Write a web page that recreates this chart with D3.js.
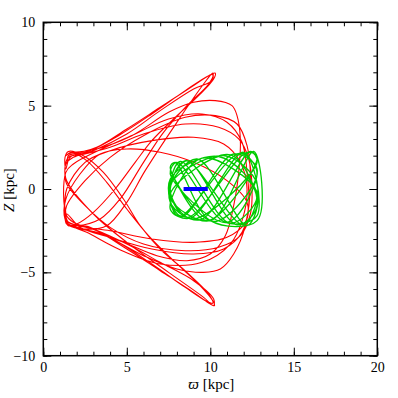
<!DOCTYPE html>
<html>
<head>
<meta charset="utf-8">
<script src="https://cdn.jsdelivr.net/npm/d3@7"></script>
<style>
  html, body { margin: 0; padding: 0; background: #fff; }
  text { font-family: "Liberation Serif", "DejaVu Serif", serif; }
</style>
</head>
<body>
<svg id="chart"></svg>
<script>
// axis ranges and ticks
var xDomain = [0, 20];
var yDomain = [-10, 10];
var xMajor = [0, 5, 10, 15, 20];
var yMajor = [-10, -5, 0, 5, 10];
var xMinor = d3.range(0, 21, 1);
var yMinor = d3.range(-10, 11, 1);

// red orbit, [R, Z] in kpc
var redOrbit = [
  [1.45, 1.6], [1.5, 2.0], [2.0, 2.15], [3.2, 2.5], [5.0, 3.6], [7.0, 4.9], [9.0, 6.2], [10.0, 6.85], [10.3, 6.95],
  [10.2, 6.6], [9.3, 5.6], [7.8, 4.2], [6.5, 2.9], [5.5, 1.6], [4.3, 0.0], [3.0, -1.4], [2.0, -2.1], [1.5, -2.2], [1.35, -1.9],
  [1.4, -1.5], [2.2, -2.3], [4.0, -2.9], [6.5, -3.6], [9.0, -3.9], [10.8, -3.6], [11.9, -2.6], [12.3, -1.0], [12.2, 1.0],
  [11.9, 2.8], [11.0, 4.0], [9.5, 4.5], [7.5, 4.2], [5.5, 3.3], [3.5, 2.4], [1.8, 1.5], [1.35, 1.0],
  [1.4, -1.6], [2.0, -2.1], [3.2, -2.5], [5.0, -3.6], [7.0, -4.9], [9.0, -6.2], [10.0, -6.9], [10.25, -7.0],
  [10.15, -6.7], [9.3, -5.7], [7.8, -4.3], [6.3, -2.8], [5.0, -1.2], [3.8, 0.4], [2.6, 1.7], [1.7, 2.2], [1.35, 2.0],
  [1.6, 2.15], [3.0, 2.35], [5.3, 3.2], [7.5, 4.6], [9.0, 5.2], [10.3, 5.3], [11.3, 5.0], [11.6, 4.4], [11.8, 3.0],
  [11.7, 1.0], [11.4, -1.0], [10.9, -2.8], [10.0, -3.9], [8.6, -4.3], [6.8, -4.0], [4.8, -3.2], [2.8, -2.5], [1.5, -2.1],
  [1.3, -1.7], [1.5, -2.15], [2.5, -2.4], [3.8, -2.2], [5.0, -0.8], [6.1, 1.1], [8.0, 4.0], [9.6, 6.3], [10.15, 6.95],
  [10.1, 6.5], [9.0, 6.0], [7.0, 4.7], [5.0, 3.3], [3.0, 2.3], [1.8, 1.9], [1.35, 1.5], [1.3, 0.8],
  [1.4, 0.3], [2.5, -1.0], [4.0, -2.3], [6.0, -3.3], [8.5, -3.7], [10.5, -3.5], [11.8, -2.8], [12.4, -1.5], [12.5, 0.0],
  [12.3, 1.8], [11.7, 3.0], [10.5, 3.7], [8.5, 3.9], [6.0, 3.3], [4.0, 2.5], [2.5, 2.1], [1.5, 1.9], [1.3, 1.3],
  [1.4, 0.5], [3.0, -1.5], [5.0, -3.2], [7.5, -5.0], [9.6, -6.5], [10.2, -7.0], [10.2, -6.6], [9.0, -5.5], [7.0, -4.4],
  [5.0, -3.3], [3.0, -2.4], [1.8, -2.0], [1.35, -1.5],
  [1.4, -1.0], [2.5, 0.5], [4.0, 1.9], [6.0, 3.2], [8.5, 4.3], [10.3, 4.4], [11.6, 3.9], [12.2, 2.6], [12.4, 0.5],
  [12.1, -2.2], [11.4, -3.9], [10.6, -4.8], [9.6, -5.0], [8.0, -4.8], [6.0, -4.0], [3.5, -2.7], [1.6, -2.2], [1.3, -1.8],
  [1.35, -0.6], [2.2, 0.9], [3.4, 2.1], [5.0, 2.4], [7.0, 2.2], [9.0, 1.6], [11.0, 0.5], [12.2, -0.8], [12.1, -2.0],
  [11.0, -2.9], [9.0, -3.2], [6.5, -3.0], [4.0, -2.5], [2.3, -2.25], [1.4, -1.9], [1.3, -1.2],
  [1.5, -2.0], [2.8, -2.3], [4.5, -3.2], [6.5, -4.5], [8.5, -5.9], [9.9, -6.8], [10.15, -6.85], [9.9, -6.3], [8.6, -5.0],
  [7.0, -3.6], [5.8, -2.2], [4.8, -0.6], [3.6, 1.0], [2.4, 2.0], [1.5, 2.25], [1.3, 1.9],
  [1.35, 1.2], [1.6, 1.9], [2.8, 2.3], [4.5, 3.2], [6.5, 4.5], [8.5, 5.9], [9.9, 6.8], [10.15, 6.85], [9.9, 6.3],
  [8.6, 5.0], [7.2, 3.4], [6.0, 1.6], [4.6, -0.6], [3.4, -1.8], [2.0, -2.2], [1.4, -2.1], [1.3, -1.5],
  [1.4, 0.0], [2.5, 1.6], [4.0, 2.3], [6.5, 2.9], [9.0, 3.1], [10.8, 2.7], [11.8, 1.6], [12.2, 0.0], [11.9, -1.9],
  [11.2, -3.3], [9.5, -4.4], [7.0, -4.5], [4.5, -3.6], [2.6, -2.6], [1.5, -2.1], [1.3, -1.4]
];

// green orbit, [R, Z] in kpc
var greenOrbit = [
  [7.6, 0.4], [8.6, 1.7], [11.6, -2.15], [12.8, -1.0], [11.2, 2.05], [7.6, -0.3], [8.3, -1.65], [11.4, 2.1],
  [12.8, 1.2], [11.0, -2.0], [7.6, 0.9], [8.0, 1.6], [10.9, -2.0], [12.8, -1.6], [12.0, 2.2], [8.8, -1.75],
  [7.6, -1.2], [9.5, 1.85], [12.8, -0.2], [12.2, -2.2], [9.2, 1.8], [7.6, 0.0], [8.9, -1.8], [12.8, 1.6],
  [12.4, 2.25], [9.4, -1.85], [7.6, -0.8], [8.2, 1.65], [11.2, -2.05], [12.8, -0.4], [10.5, 1.95], [7.6, 0.6],
  [8.1, -1.65], [11.8, 2.15], [12.8, 0.9], [10.2, -1.95], [7.6, 1.3], [7.9, 1.6], [10.0, -1.9], [12.8, -1.9],
  [12.6, 2.25], [10.0, -1.9], [7.6, -0.5], [8.5, 1.7], [12.0, -2.15], [12.8, 0.3], [10.8, 2.0], [7.6, 0.2],
  [8.6, -1.7], [12.2, 2.2], [12.8, 1.9], [9.8, -1.9], [7.6, 1.1]
];

// blue segment
var blueSeg = [[8.4, 0], [9.85, 0]];

var width = 398, height = 398;
var margin = { top: 22.3, right: 20.7, bottom: 42.3, left: 43.3 };

var svg = d3.select("#chart").attr("width", width).attr("height", height);

var x = d3.scaleLinear().domain(xDomain).range([margin.left, width - margin.right]);
var y = d3.scaleLinear().domain(yDomain).range([height - margin.bottom, margin.top]);

var line = d3.line()
  .x(function (d) { return x(d[0]); })
  .y(function (d) { return y(d[1]); })
  .curve(d3.curveCatmullRom.alpha(0.5));

svg.append("path").datum(redOrbit).attr("d", line)
  .attr("fill", "none").attr("stroke", "#ff0000").attr("stroke-width", 1.1);

svg.append("path").datum(greenOrbit).attr("d", line)
  .attr("fill", "none").attr("stroke", "#00cc00").attr("stroke-width", 1.3);

svg.append("path").datum(blueSeg).attr("d", d3.line().x(function (d) { return x(d[0]); }).y(function (d) { return y(d[1]); }))
  .attr("fill", "none").attr("stroke", "#0000ff").attr("stroke-width", 4);

// axes, ticks pointing inwards on all four sides
var x0 = height - margin.bottom, y0 = margin.left;
function addAxis(axis, tr, labels) {
  var g = svg.append("g").attr("transform", tr).call(axis);
  g.select(".domain").remove();
  g.selectAll("line").attr("stroke", "#000").attr("stroke-width", 1);
  g.selectAll("text").attr("font-size", 14).attr("fill", "#000")
    .style("font-family", "'Liberation Serif', serif");
  if (!labels) g.selectAll("text").remove();
  return g;
}
addAxis(d3.axisBottom(x).tickValues(xMinor).tickSize(-4).tickFormat(""), "translate(0," + x0 + ")", false);
addAxis(d3.axisTop(x).tickValues(xMinor).tickSize(-4).tickFormat(""), "translate(0," + margin.top + ")", false);
addAxis(d3.axisLeft(y).tickValues(yMinor).tickSize(-4).tickFormat(""), "translate(" + y0 + ",0)", false);
addAxis(d3.axisRight(y).tickValues(yMinor).tickSize(-4).tickFormat(""), "translate(" + (width - margin.right) + ",0)", false);

addAxis(d3.axisBottom(x).tickValues(xMajor).tickSize(-8).tickPadding(6).tickFormat(d3.format("d")), "translate(0," + x0 + ")", true);
addAxis(d3.axisTop(x).tickValues(xMajor).tickSize(-8), "translate(0," + margin.top + ")", false);
addAxis(d3.axisLeft(y).tickValues(yMajor).tickSize(-8).tickPadding(8).tickFormat(d3.format("d")), "translate(" + y0 + ",0)", true);
addAxis(d3.axisRight(y).tickValues(yMajor).tickSize(-8), "translate(" + (width - margin.right) + ",0)", false);

svg.append("rect")
  .attr("x", x(0)).attr("y", y(10))
  .attr("width", x(20) - x(0)).attr("height", y(-10) - y(10))
  .attr("fill", "none").attr("stroke", "#000").attr("stroke-width", 1.5);

// axis titles
var xt = svg.append("text").attr("x", (x(0) + x(20)) / 2 + 1).attr("y", 389)
  .attr("text-anchor", "middle").attr("font-size", 15);
xt.append("tspan").attr("font-style", "italic").text("ϖ");
xt.append("tspan").text(" [kpc]");

var yt = svg.append("text").attr("transform", "translate(14," + (y(0) + 1) + ") rotate(-90)")
  .attr("text-anchor", "middle").attr("font-size", 15);
yt.append("tspan").attr("font-style", "italic").text("Z");
yt.append("tspan").text(" [kpc]");
</script>
</body>
</html>
